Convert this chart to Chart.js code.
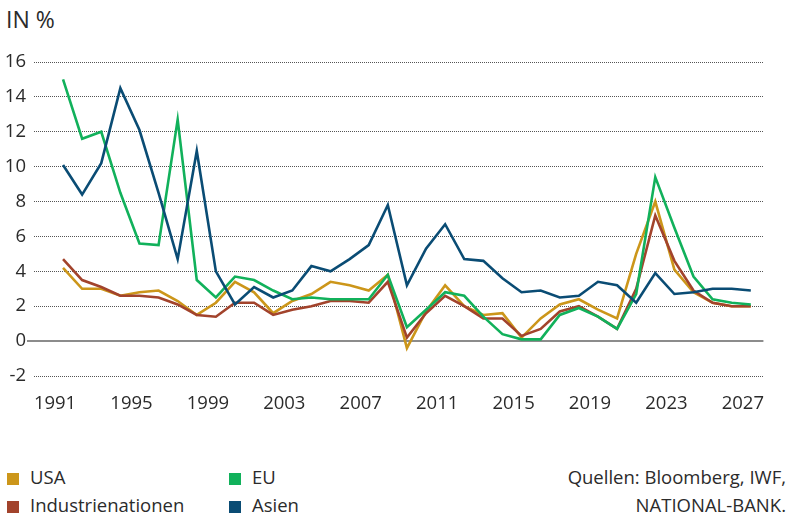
<!DOCTYPE html>
<html lang="de">
<head>
    <meta charset="UTF-8">
    <title>Inflation in %</title>
    <script src="https://cdn.jsdelivr.net/npm/chart.js@4.4.0/dist/chart.umd.min.js"></script>
    <style>
        body {
            margin: 0;
            width: 789px;
            height: 515px;
            position: relative;
            overflow: hidden;
            background: #fff;
            font-family: 'Open Sans', sans-serif;
            font-weight: 400;
            color: #2b2b2b;
        }
        .unit {
            position: absolute;
            left: 6px;
            top: 3px;
            font-size: 23px;
        }
        .chart-box {
            position: absolute;
            left: 0;
            top: 0;
            width: 789px;
            height: 430px;
        }
        .legend-item {
            position: absolute;
            font-size: 18.5px;
            line-height: 24px;
            white-space: nowrap;
        }
        .legend-item span {
            display: inline-block;
            width: 12px;
            height: 12px;
            margin-right: 11px;
            vertical-align: -1px;
        }
        .source {
            position: absolute;
            right: 3px;
            font-size: 18.5px;
            line-height: 24px;
            text-align: right;
        }
    </style>
</head>
<body>
    <div class="unit">IN %</div>
    <div class="chart-box"><canvas id="chart"></canvas></div>

    <div class="legend-item" style="left:7px; top:465px;"><span style="background:#CC961A"></span>USA</div>
    <div class="legend-item" style="left:7px; top:493px;"><span style="background:#A2432C"></span>Industrienationen</div>
    <div class="legend-item" style="left:229px; top:465px;"><span style="background:#11B15B"></span>EU</div>
    <div class="legend-item" style="left:229px; top:493px;"><span style="background:#0A4C74"></span>Asien</div>
    <div class="source" style="top:465px;">Quellen: Bloomberg, IWF,</div>
    <div class="source" style="top:493px;">NATIONAL-BANK.</div>

    <script>
        // Years on the x axis
        const years = [1991, 1992, 1993, 1994, 1995, 1996, 1997, 1998, 1999, 2000,
                       2001, 2002, 2003, 2004, 2005, 2006, 2007, 2008, 2009, 2010,
                       2011, 2012, 2013, 2014, 2015, 2016, 2017, 2018, 2019, 2020,
                       2021, 2022, 2023, 2024, 2025, 2026, 2027];
        const xTickYears = [1991, 1995, 1999, 2003, 2007, 2011, 2015, 2019, 2023, 2027];
        const yTicks = [-2, 0, 2, 4, 6, 8, 10, 12, 14, 16];

        // Inflation rates in %
        const usa = [4.2, 3.0, 3.0, 2.6, 2.8, 2.9, 2.3, 1.5, 2.2, 3.4,
                     2.8, 1.6, 2.3, 2.7, 3.4, 3.2, 2.9, 3.8, -0.4, 1.7,
                     3.2, 2.0, 1.5, 1.6, 0.2, 1.3, 2.1, 2.4, 1.8, 1.3,
                     5.0, 8.0, 4.1, 2.8, 2.2, 2.0, 2.0];
        const industrienationen = [4.7, 3.5, 3.1, 2.6, 2.6, 2.5, 2.1, 1.5, 1.4, 2.2,
                                   2.2, 1.5, 1.8, 2.0, 2.3, 2.3, 2.2, 3.4, 0.2, 1.6,
                                   2.6, 2.0, 1.3, 1.3, 0.3, 0.7, 1.7, 2.0, 1.4, 0.7,
                                   3.0, 7.2, 4.6, 2.9, 2.2, 2.0, 2.0];
        const eu = [15.0, 11.6, 12.0, 8.5, 5.6, 5.5, 12.7, 3.5, 2.5, 3.7,
                    3.5, 2.9, 2.4, 2.5, 2.4, 2.4, 2.4, 3.8, 0.8, 1.8,
                    2.8, 2.6, 1.4, 0.4, 0.1, 0.1, 1.5, 1.9, 1.4, 0.7,
                    2.7, 9.4, 6.5, 3.7, 2.4, 2.2, 2.1];
        const asien = [10.1, 8.4, 10.2, 14.5, 12.1, 8.5, 4.7, 10.9, 4.0, 2.1,
                       3.1, 2.5, 2.9, 4.3, 4.0, 4.7, 5.5, 7.8, 3.2, 5.3,
                       6.7, 4.7, 4.6, 3.6, 2.8, 2.9, 2.5, 2.6, 3.4, 3.2,
                       2.2, 3.9, 2.7, 2.8, 3.0, 3.0, 2.9];

        function toPoints(values) {
            return values.map((v, i) => ({ x: years[i], y: v }));
        }

        function line(label, values, color) {
            return {
                label: label,
                data: toPoints(values),
                borderColor: color,
                backgroundColor: color,
                borderWidth: 2.6,
                pointRadius: 0,
                tension: 0,
                clip: false
            };
        }

        const font = { family: "'Open Sans', sans-serif", size: 18.5, weight: '400' };

        new Chart(document.getElementById('chart'), {
            type: 'line',
            data: {
                datasets: [
                    line('Asien', asien, '#0A4C74'),
                    line('EU', eu, '#11B15B'),
                    line('Industrienationen', industrienationen, '#A2432C'),
                    line('USA', usa, '#CC961A')
                ]
            },
            options: {
                responsive: true,
                maintainAspectRatio: false,
                animation: false,
                layout: { padding: { top: 62, right: 2, bottom: 0, left: 0 } },
                plugins: {
                    legend: { display: false },
                    tooltip: { enabled: false }
                },
                scales: {
                    x: {
                        type: 'linear',
                        min: 1989.48,
                        max: 2027.66,
                        afterBuildTicks: scale => {
                            scale.ticks = xTickYears.map(v => ({ value: v }));
                        },
                        afterFit: scale => { scale.height = 54; },
                        grid: { display: false, drawTicks: false },
                        border: { display: false },
                        ticks: {
                            color: '#2b2b2b',
                            font: font,
                            padding: 17,
                            labelOffset: -8,
                            maxRotation: 0,
                            autoSkip: false,
                            callback: v => String(v)
                        }
                    },
                    y: {
                        min: -2,
                        max: 16,
                        afterBuildTicks: scale => {
                            scale.ticks = yTicks.map(v => ({ value: v }));
                        },
                        afterFit: scale => { scale.width = 34; },
                        grid: {
                            color: ctx => ctx.tick && ctx.tick.value === 0 ? '#8c8c8c' : '#555',
                            lineWidth: ctx => ctx.tick && ctx.tick.value === 0 ? 2 : 1,
                            drawTicks: true,
                            tickLength: 7,
                            tickWidth: 2,
                            tickColor: ctx => ctx.tick && ctx.tick.value === 0 ? '#8c8c8c' : 'rgba(0,0,0,0)'
                        },
                        border: {
                            display: false,
                            dash: ctx => ctx.tick && ctx.tick.value === 0 ? [] : [1, 1]
                        },
                        ticks: {
                            color: '#2b2b2b',
                            font: font,
                            padding: 1,
                            autoSkip: false
                        }
                    }
                }
            }
        });
    </script>
</body>
</html>
